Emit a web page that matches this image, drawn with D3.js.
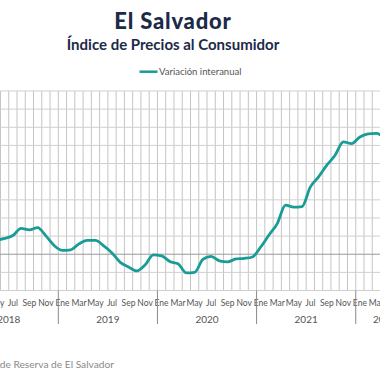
<!DOCTYPE html>
<html>
<head>
<meta charset="utf-8">
<script src="https://cdn.jsdelivr.net/npm/d3@7"></script>
<style>
  body { margin: 0; background: #fff; }
  svg { display: block; font-family: Lato, "Open Sans", sans-serif; }
</style>
</head>
<body>
<svg id="drawing_region"></svg>
<script>
// IPC El Salvador, variacion interanual (%) - Ene 2018 .. Jul 2022
const years = ["2018", "2019", "2020", "2021", "2022"];
const monthLabels = ["Ene", "Feb", "Mar", "Abr", "May", "Jun", "Jul", "Ago", "Sep", "Oct", "Nov", "Dic"];
const values = [
    1.6, 1.3, 1.1, 0.9, 0.79, 0.87, 1.03, 1.42, 1.34, 1.47, 1.01, 0.48,
    0.21, 0.24, 0.57, 0.76, 0.76, 0.46, 0.07, -0.45, -0.70, -0.92, -0.59, -0.04,
    -0.09, -0.40, -0.53, -1.03, -1.00, -0.29, -0.12, -0.37, -0.42, -0.26, -0.23, -0.15,
    0.40, 1.06, 1.69, 2.71, 2.60, 2.63, 3.70, 4.27, 4.91, 5.46, 6.19, 6.10,
    6.46, 6.64, 6.66, 6.50, 7.2, 7.8, 7.7
];
const yTicks = [-2, -1, 0, 1, 2, 3, 4, 5, 6, 7, 8, 9];

const data = values.map( (v, i) => ({
    key: i,
    year: years[Math.floor(i / 12)],
    month: monthLabels[i % 12],
    value: v
}));

const config = {
    width: 380,
    height: 380,
    step: 8.262,
    left: -40.84,
    top: 91,
    bottom: 290.5
};

const svg = d3.select('#drawing_region')
    .attr('width', config.width)
    .attr('height', config.height);

const x = d3.scaleBand()
    .domain( data.map( d => d.key ) )
    .range( [config.left, config.left + data.length * config.step] );

const y = d3.scaleLinear()
    .domain( [-2, 9] )
    .range( [config.bottom, config.top] );

// titles
svg.append('text')
    .attr('x', 173).attr('y', 28.5)
    .attr('text-anchor', 'middle')
    .attr('font-size', 22).attr('font-weight', 900)
    .attr('letter-spacing', 0.8)
    .attr('fill', '#1b2a48')
    .text('El Salvador');

svg.append('text')
    .attr('x', 173).attr('y', 49.5)
    .attr('text-anchor', 'middle')
    .attr('font-size', 15).attr('font-weight', 'bold')
    .attr('fill', '#1b2a48')
    .text('Índice de Precios al Consumidor');

// legend
svg.append('line')
    .attr('x1', 139.5).attr('x2', 157.5)
    .attr('y1', 71.7).attr('y2', 71.7)
    .attr('stroke', '#1a9c96').attr('stroke-width', 2.5);

svg.append('text')
    .attr('x', 159).attr('y', 75)
    .attr('font-size', 9.5)
    .attr('fill', '#555')
    .text('Variación interanual');

// grid
const bounds = d3.range(data.length + 1).map( i => config.left + i * config.step );

svg.append('g')
    .selectAll('line')
    .data(bounds)
    .enter()
    .append('line')
    .attr('x1', d => d).attr('x2', d => d)
    .attr('y1', config.top).attr('y2', config.bottom)
    .attr('stroke', '#c4c4c4')
    .attr('stroke-width', 1);

svg.append('g')
    .selectAll('line')
    .data(yTicks)
    .enter()
    .append('line')
    .attr('x1', 0).attr('x2', config.width)
    .attr('y1', d => y(d)).attr('y2', d => y(d))
    .attr('stroke', d => d === 0 ? '#9a9a9a' : '#cfcfcf')
    .attr('stroke-width', 1);

// line
const line = d3.line()
    .x( d => x(d.key) + x.bandwidth() / 2 )
    .y( d => y(d.value) )
    .curve( d3.curveMonotoneX );

svg.append('path')
    .datum(data)
    .attr('d', line)
    .attr('fill', 'none')
    .attr('stroke', '#1a9c96')
    .attr('stroke-width', 2.8)
    .attr('stroke-linejoin', 'round');

// month labels (every other month)
svg.append('g')
    .selectAll('text')
    .data( data.filter( d => d.key % 2 === 0 ) )
    .enter()
    .append('text')
    .attr('x', d => x(d.key) + x.bandwidth() / 2)
    .attr('y', 306)
    .attr('text-anchor', 'middle')
    .attr('font-size', 8.5)
    .attr('fill', '#555')
    .text( d => d.month );

// year labels and separators
const yearSpans = years.map( yr => {
    const ks = data.filter( d => d.year === yr ).map( d => d.key );
    return { year: yr, x0: x(d3.min(ks)), x1: x(d3.max(ks)) + x.bandwidth() };
});

svg.append('g')
    .selectAll('line')
    .data(yearSpans)
    .enter()
    .append('line')
    .attr('x1', d => d.x0).attr('x2', d => d.x0)
    .attr('y1', config.bottom).attr('y2', 324)
    .attr('stroke', '#8a8a8a');

svg.append('g')
    .selectAll('text')
    .data(yearSpans)
    .enter()
    .append('text')
    .attr('x', d => (d.x0 + d.x1) / 2)
    .attr('y', 322.5)
    .attr('text-anchor', 'middle')
    .attr('font-size', 10)
    .attr('fill', '#555')
    .text( d => d.year );

// source
svg.append('text')
    .attr('x', 114).attr('y', 368)
    .attr('text-anchor', 'end')
    .attr('font-size', 10.2)
    .attr('fill', '#8a8a8a')
    .text('Fuente: Banco Central de Reserva de El Salvador');
</script>
</body>
</html>
